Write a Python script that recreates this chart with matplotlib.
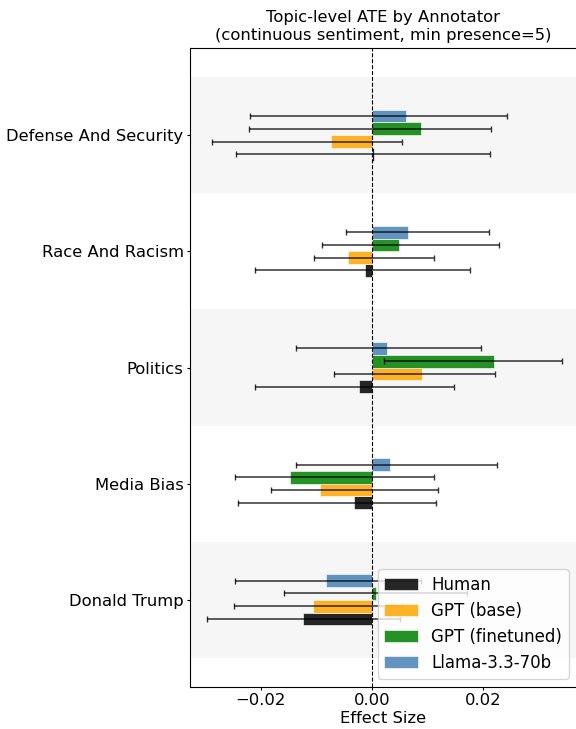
import numpy as np
import matplotlib
matplotlib.use("Agg")
import matplotlib.pyplot as plt

# topics, top to bottom as shown
topics = ["Defense And Security", "Race And Racism", "Politics", "Media Bias", "Donald Trump"]
annotators = ["Human", "GPT (base)", "GPT (finetuned)", "Llama-3.3-70b"]
colors = ["black", "orange", "green", "steelblue"]

human_ate = [0.0003, -0.0012, -0.0023, -0.0033, -0.0124]
human_lo = [-0.0245, -0.0211, -0.0210, -0.0240, -0.0296]
human_hi = [0.0211, 0.0176, 0.0148, 0.0114, 0.0050]

gpt_base_ate = [-0.0074, -0.0043, 0.0090, -0.0094, -0.0107]
gpt_base_lo = [-0.0288, -0.0104, -0.0068, -0.0181, -0.0248]
gpt_base_hi = [0.0053, 0.0112, 0.0220, 0.0119, 0.0053]

gpt_ft_ate = [0.0088, 0.0049, 0.0219, -0.0148, 0.0007]
gpt_ft_lo = [-0.0221, -0.0090, 0.0022, -0.0246, -0.0159]
gpt_ft_hi = [0.0213, 0.0228, 0.0341, 0.0112, 0.0170]

llama_ate = [0.0061, 0.0064, 0.0026, 0.0033, -0.0083]
llama_lo = [-0.0219, -0.0046, -0.0137, -0.0137, -0.0247]
llama_hi = [0.0242, 0.0210, 0.0195, 0.0224, 0.0088]

ates = [human_ate, gpt_base_ate, gpt_ft_ate, llama_ate]
los = [human_lo, gpt_base_lo, gpt_ft_lo, llama_lo]
his = [human_hi, gpt_base_hi, gpt_ft_hi, llama_hi]

fs = 11.75

fig = plt.figure(figsize=(5.76, 7.29), dpi=100)
ax = fig.add_axes([190 / 576, 42 / 729, 387 / 576, 639 / 729])

n = len(topics)
y = np.arange(n)[::-1]  # top topic gets highest y
h = 0.11

for i in range(n):
    if y[i] % 2 == 0:
        ax.axhspan(y[i] - 0.5, y[i] + 0.5, color="gray", alpha=0.07, lw=0)

ax.axvline(0, color="black", linestyle="--", linewidth=0.8)

for k, name in enumerate(annotators):
    pos = y + (k - 1.5) * h
    ate = np.array(ates[k])
    err = np.vstack([ate - np.array(los[k]), np.array(his[k]) - ate])
    ax.barh(pos, ate, height=h, color=colors[k], alpha=0.85,
            edgecolor="white", linewidth=0.5, label=name)
    ax.errorbar(ate, pos, xerr=err, fmt="none", ecolor="black",
                alpha=0.8, elinewidth=1.1, capsize=2)

ax.set_yticks(y)
ax.set_yticklabels(topics, fontsize=fs)
ax.set_ylim(-0.75, n - 0.25)
ax.set_xlim(-0.0327, 0.0368)
ax.set_xticks([-0.02, 0.0, 0.02])
ax.tick_params(axis="both", labelsize=fs, length=2.5, pad=2)
ax.set_xlabel("Effect Size", fontsize=fs, labelpad=2)
ax.set_title("Topic-level ATE by Annotator\n(continuous sentiment, min presence=5)",
             fontsize=fs)
ax.legend(loc="lower right", fontsize=12, labelspacing=0.48)

fig.savefig("out.png", dpi=100)
